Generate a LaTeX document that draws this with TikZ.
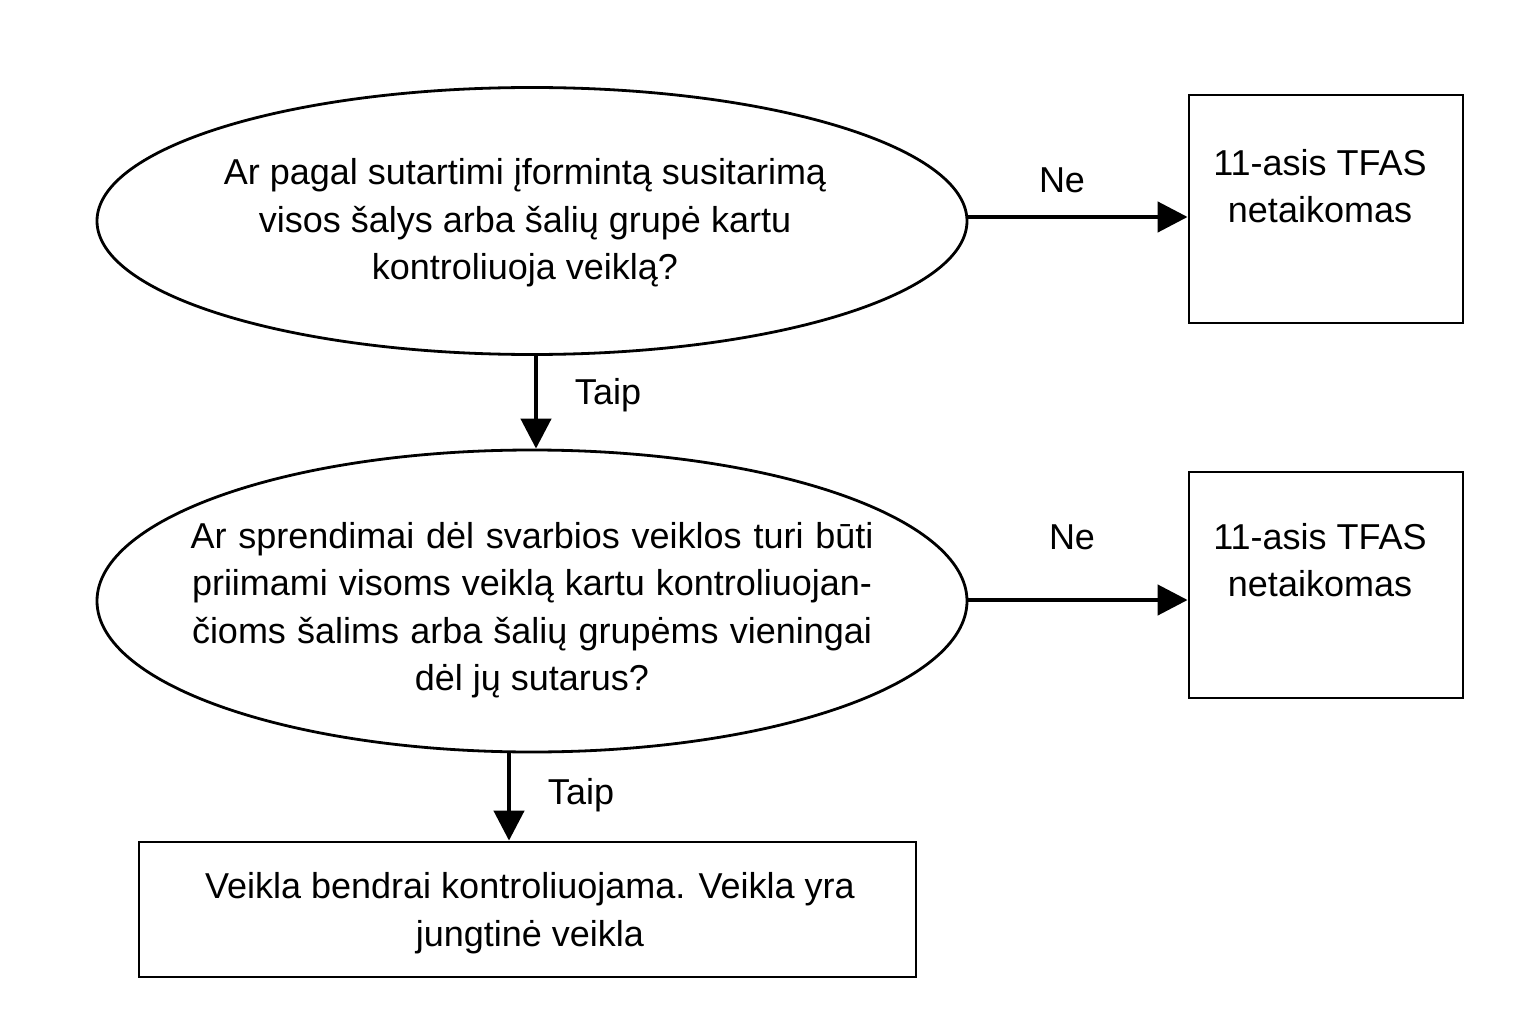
\documentclass[tikz,border=0pt]{standalone}
\usepackage{fontspec}
\setmainfont{Liberation Sans}
\usetikzlibrary{arrows.meta,shapes.geometric}
\begin{document}
\begin{tikzpicture}[x=1pt,y=-1pt,
  txt/.style={font=\fontsize{36}{47.5}\selectfont, align=center, inner sep=0pt},
  ell/.style={draw, line width=2.8pt, ellipse, inner sep=0pt},
  boxnode/.style={draw, line width=2.8pt, inner sep=0pt},
  arr/.style={line width=4.5pt, -{Triangle[length=30pt,width=30pt]}}]
\useasboundingbox (0,0) rectangle (1540,1019);
% shapes
\node[ell, minimum width=870pt, minimum height=267pt] (e1) at (532,221) {};
\node[ell, minimum width=870pt, minimum height=302pt] (e2) at (532,601) {};
\node[boxnode, minimum width=274pt, minimum height=228pt] (b1) at (1326,209) {};
\node[boxnode, minimum width=274pt, minimum height=226pt] (b2) at (1326,585) {};
\node[boxnode, minimum width=777pt, minimum height=135pt] (b3) at (527.5,909.5) {};
% texts
\node[txt] (t1) at (525,223) {Ar pagal sutartimi įformintą susitarimą\\visos šalys arba šalių grupė kartu\\kontroliuoja veiklą?};
\node[txt] (t2) at (532,610) {\makebox[683pt][s]{Ar sprendimai dėl svarbios veiklos turi būti}\\\makebox[680pt][s]{priimami visoms veiklą kartu kontroliuojan-}\\\makebox[680pt][s]{čioms šalims arba šalių grupėms vieningai}\\dėl jų sutarus?};
\node[txt] (t3) at (1320,186) {11-asis TFAS\\netaikomas};
\node[txt] (t4) at (1320,560) {11-asis TFAS\\netaikomas};
\node[txt] (t5) at (530,913) {Veikla bendrai kontroliuojama. Veikla yra\\jungtinė veikla};
% connectors
\draw[arr] (e1.east |- 0,217) -- (b1.west |- 0,217);
\draw[arr] (e2.east |- 0,600) -- (b2.west |- 0,600);
\draw[arr] (e1.south -| 536,0) -- (e2.north -| 536,0);
\draw[arr] (e2.south -| 509,0) -- (b3.north -| 509,0);
% labels
\node[txt] (l1) at (1062,180) {Ne};
\node[txt] (l2) at (1072,537) {Ne};
\node[txt] (l3) at (608,395) {Taip};
\node[txt] (l4) at (581,795) {Taip};
\end{tikzpicture}
\end{document}
